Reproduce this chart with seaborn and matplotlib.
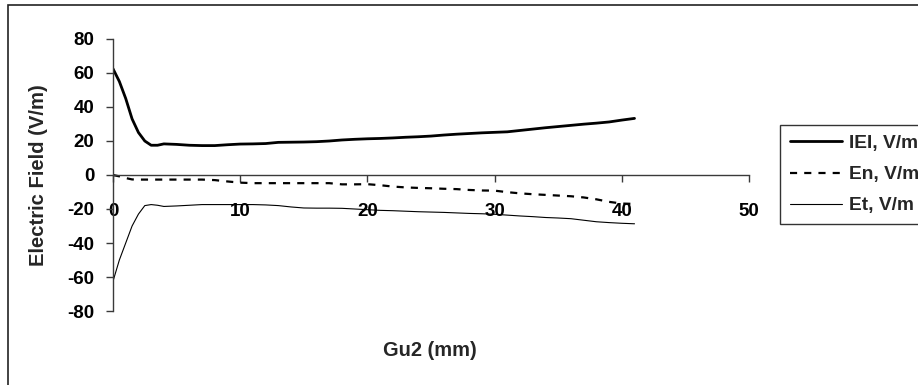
import matplotlib
matplotlib.use("Agg")
import matplotlib.pyplot as plt
from matplotlib.patches import Rectangle
import numpy as np
import pandas as pd
import seaborn as sns

# Distance along Gu2 (mm)
gu2_mm = [0, 0.5, 1, 1.5, 2, 2.5, 3, 3.5, 4, 5, 6, 7, 8, 9, 10, 11, 12, 13, 14, 15,
          16, 17, 18, 19, 20, 21, 22, 23, 24, 25, 26, 27, 28, 29, 30, 31, 32, 33,
          34, 35, 36, 37, 38, 39, 40, 41]

# Field magnitude |E| (V/m)
e_mag = [62.5, 55, 45, 33, 25, 20, 17.5, 17.5, 18.3, 18, 17.5, 17.3, 17.3, 17.8,
         18.2, 18.3, 18.5, 19.2, 19.3, 19.4, 19.6, 20, 20.6, 21, 21.3, 21.5, 21.8,
         22.2, 22.5, 22.9, 23.5, 24, 24.4, 24.8, 25.1, 25.4, 26.2, 27, 27.8, 28.5,
         29.2, 29.9, 30.5, 31.2, 32.3, 33.3]

# Normal component En (V/m)
e_n = [0, -0.8, -1.8, -2.6, -2.7, -2.7, -2.7, -2.7, -2.7, -2.7, -2.7, -2.7, -3.0,
       -3.8, -4.5, -4.8, -4.8, -4.8, -4.8, -4.8, -4.8, -4.8, -5.5, -5.5, -5.4, -6,
       -6.8, -7.3, -7.6, -7.8, -8.1, -8.3, -8.8, -9.1, -9.2, -10.1, -10.8, -11.3,
       -11.7, -12.1, -12.5, -13.2, -14.3, -15.8, -16.8, -17]

# Tangential component Et (V/m)
e_t = [-62.5, -50, -40, -30, -23, -18, -17.4, -17.8, -18.5, -18.2, -17.8, -17.4,
       -17.4, -17.4, -17.4, -17.4, -17.6, -18, -18.8, -19.4, -19.5, -19.5, -19.6,
       -20, -20.4, -20.8, -21, -21.3, -21.6, -21.8, -22, -22.3, -22.6, -22.8, -23.1,
       -23.6, -24.1, -24.5, -25, -25.3, -25.7, -26.6, -27.5, -28, -28.4, -28.7]

series_labels = ["IEI, V/m", "En, V/m", "Et, V/m"]
x_ticks = [0, 10, 20, 30, 40, 50]
y_ticks = [-80, -60, -40, -20, 0, 20, 40, 60, 80]

sns.set_style("white")
plt.rcParams["font.family"] = ["Liberation Sans", "DejaVu Sans"]
plt.rcParams["font.weight"] = "bold"
plt.rcParams["axes.unicode_minus"] = False

W, H = 918, 385
fig = plt.figure(figsize=(W / 100, H / 100), dpi=100)
ax = fig.add_axes([113 / W, (H - 311) / H, (749 - 113) / W, (311 - 39) / H])

df = pd.DataFrame({"x": gu2_mm, "mag": e_mag, "en": e_n, "et": e_t})

sns.lineplot(data=df, x="x", y="mag", ax=ax, color="black", linewidth=2.0,
             label=series_labels[0])
sns.lineplot(data=df, x="x", y="en", ax=ax, color="black", linewidth=1.6,
             label=series_labels[1])
ax.lines[-1].set_dashes((3.2, 3.2))
sns.lineplot(data=df, x="x", y="et", ax=ax, color="black", linewidth=0.8,
             label=series_labels[2])

ax.set_xlim(0, 50)
ax.set_ylim(-80, 80)
ax.set_xticks(x_ticks)
ax.set_yticks(y_ticks)

axis_col = "#3a3a3a"
for s in ("top", "right"):
    ax.spines[s].set_visible(False)
ax.spines["bottom"].set_position(("data", 0))
ax.spines["left"].set_position(("data", 0))
for s in ("bottom", "left"):
    ax.spines[s].set_color(axis_col)
    ax.spines[s].set_linewidth(1.0)

ax.tick_params(axis="x", direction="out", length=5, width=1, color=axis_col,
               pad=15.5, labelsize=13.5, labelcolor="black")
ax.tick_params(axis="y", direction="out", length=5, width=1, color=axis_col,
               pad=8.5, labelsize=13.5, labelcolor="black")
ax.tick_params(bottom=True, left=True)
for lab in ax.get_xticklabels() + ax.get_yticklabels():
    lab.set_fontweight("bold")

ax.set_xlabel("")
ax.set_ylabel("")
fig.text(430 / W, 1 - 350 / H, "Gu2 (mm)", ha="center", va="center",
         fontsize=14.4, fontweight="bold")
fig.text(39 / W, 1 - 175 / H, "Electric Field (V/m)", ha="center", va="center",
         rotation=90, fontsize=14.6, fontweight="bold")

leg = ax.legend(loc="upper left", bbox_to_anchor=(780 / W, 1 - 125 / H),
                bbox_transform=fig.transFigure, borderaxespad=0, frameon=True,
                fancybox=False, edgecolor="#333333", framealpha=1,
                prop={"size": 13.8, "weight": "bold"}, handlelength=2.75,
                handletextpad=0.35, labelspacing=0.72, borderpad=0.5)
leg.get_frame().set_linewidth(1.0)

# outer chart frame
fig.patches.append(Rectangle((7.5 / W, -0.5), 2.0, 1.5 - 4.5 / H,
                             transform=fig.transFigure, fill=False,
                             edgecolor="#222222", linewidth=1.2))

fig.savefig("out.png", dpi=100)
